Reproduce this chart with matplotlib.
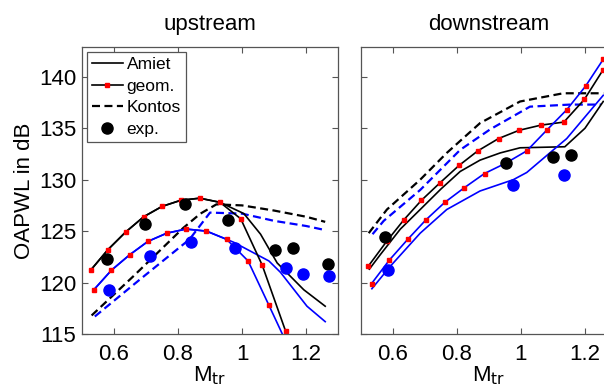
import matplotlib
matplotlib.use("Agg")
import matplotlib.pyplot as plt
from matplotlib.lines import Line2D

plt.rcParams["font.family"] = ["Liberation Sans", "DejaVu Sans"]

# upstream
up_geom_k_x = [0.527, 0.581, 0.636, 0.693, 0.750, 0.809, 0.868, 0.931, 0.996, 1.063, 1.136]
up_geom_k_y = [121.2, 123.2, 124.9, 126.4, 127.4, 128.0, 128.2, 127.8, 126.2, 121.7, 115.3]
up_geom_b_x = [0.537, 0.592, 0.649, 0.706, 0.765, 0.825, 0.889, 0.952, 1.019, 1.084, 1.150]
up_geom_b_y = [119.3, 121.2, 122.7, 124.0, 124.8, 125.2, 125.0, 124.2, 122.1, 117.8, 113.4]
up_amiet_k_x = [0.527, 0.581, 0.636, 0.693, 0.750, 0.809, 0.868, 0.931, 1.006, 1.058, 1.110, 1.193, 1.260]
up_amiet_k_y = [121.2, 123.2, 124.9, 126.4, 127.4, 128.0, 128.2, 127.8, 126.7, 124.7, 121.9, 119.3, 117.7]
up_amiet_b_x = [0.537, 0.592, 0.649, 0.706, 0.765, 0.825, 0.889, 0.952, 0.975, 1.084, 1.120, 1.203, 1.260]
up_amiet_b_y = [119.3, 121.2, 122.7, 124.0, 124.8, 125.2, 125.0, 124.2, 123.9, 122.1, 121.0, 117.7, 116.2]
up_kontos_k_x = [0.530, 0.660, 0.816, 0.870, 0.920, 1.000, 1.100, 1.200, 1.260]
up_kontos_k_y = [116.8, 120.6, 125.3, 126.7, 127.6, 127.5, 127.0, 126.4, 125.9]
up_kontos_b_x = [0.540, 0.681, 0.836, 0.900, 1.000, 1.100, 1.200, 1.260]
up_kontos_b_y = [116.7, 120.3, 124.2, 126.8, 126.7, 126.0, 125.5, 125.1]
up_exp_k_x = [0.579, 0.697, 0.823, 0.955, 1.103, 1.160, 1.269]
up_exp_k_y = [122.3, 125.7, 127.6, 126.1, 123.2, 123.4, 121.8]
up_exp_b_x = [0.584, 0.713, 0.840, 0.978, 1.136, 1.191, 1.273]
up_exp_b_y = [119.3, 122.6, 123.9, 123.4, 121.4, 120.8, 120.6]

# downstream
dn_geom_k_x = [0.523, 0.580, 0.634, 0.689, 0.747, 0.807, 0.865, 0.930, 0.994, 1.062, 1.134, 1.198, 1.257]
dn_geom_k_y = [121.6, 124.0, 126.1, 128.0, 129.7, 131.4, 132.8, 134.0, 134.8, 135.3, 135.6, 137.8, 140.7]
dn_geom_b_x = [0.533, 0.589, 0.646, 0.703, 0.762, 0.822, 0.886, 0.952, 1.018, 1.080, 1.143, 1.202, 1.257]
dn_geom_b_y = [119.9, 122.2, 124.2, 126.1, 127.8, 129.2, 130.6, 131.6, 132.8, 134.8, 136.8, 139.1, 141.7]
dn_amiet_k_x = [0.526, 0.560, 0.623, 0.685, 0.750, 0.810, 0.872, 0.935, 0.997, 1.137, 1.200, 1.257]
dn_amiet_k_y = [121.3, 122.7, 125.2, 127.1, 129.1, 130.8, 131.9, 132.6, 133.1, 133.2, 135.0, 137.6]
dn_amiet_b_x = [0.534, 0.592, 0.685, 0.768, 0.872, 0.976, 1.018, 1.143, 1.257]
dn_amiet_b_y = [119.4, 121.6, 124.8, 127.1, 128.9, 130.0, 130.7, 134.0, 138.2]
dn_kontos_k_x = [0.524, 0.581, 0.685, 0.768, 0.872, 0.997, 1.132, 1.257]
dn_kontos_k_y = [124.8, 127.1, 130.0, 132.6, 135.5, 137.6, 138.4, 138.4]
dn_kontos_b_x = [0.536, 0.571, 0.685, 0.810, 0.904, 1.028, 1.153, 1.250]
dn_kontos_b_y = [124.7, 126.0, 129.0, 132.9, 134.9, 137.1, 137.3, 137.3]
dn_exp_k_x = [0.574, 0.952, 1.101, 1.156]
dn_exp_k_y = [124.4, 131.6, 132.2, 132.4]
dn_exp_b_x = [0.584, 0.976, 1.135]
dn_exp_b_y = [121.2, 129.5, 130.5]

fig = plt.figure(figsize=(6.04, 3.87), dpi=100)
ax1 = fig.add_axes([0.1358, 0.137, 0.4238, 0.7416])
ax2 = fig.add_axes([0.5977, 0.137, 0.4238, 0.7416])

lw = 1.2
dlw = 1.6
dash = (3.6, 2.0)
msq = dict(marker="s", markersize=3.5, markerfacecolor="red", markeredgecolor="red")
mexp = dict(marker="o", linestyle="none", markersize=8)
fs = 16


def draw(ax, d):
    ax.plot(d["kk"][0], d["kk"][1], color="black", lw=dlw, dashes=dash)
    ax.plot(d["kb"][0], d["kb"][1], color="blue", lw=dlw, dashes=dash)
    ax.plot(d["ak"][0], d["ak"][1], color="black", lw=lw)
    ax.plot(d["ab"][0], d["ab"][1], color="blue", lw=lw)
    ax.plot(d["gk"][0], d["gk"][1], color="black", lw=lw, **msq)
    ax.plot(d["gb"][0], d["gb"][1], color="blue", lw=lw, **msq)
    ax.plot(d["ek"][0], d["ek"][1], color="black", **mexp)
    ax.plot(d["eb"][0], d["eb"][1], color="blue", **mexp)
    ax.set_xlim(0.5, 1.3)
    ax.set_ylim(115, 142.9)
    ax.set_xticks([0.6, 0.8, 1.0, 1.2])
    ax.set_xticklabels(["0.6", "0.8", "1", "1.2"])
    ax.set_yticks([115, 120, 125, 130, 135, 140])
    ax.tick_params(direction="in", top=True, right=True, length=4, width=0.8,
                   color="#555555", labelsize=fs)
    ax.tick_params(axis="x", pad=7)
    ax.tick_params(axis="y", pad=4)
    for s in ax.spines.values():
        s.set_color("#555555")
        s.set_linewidth(0.9)
    ax.set_xlabel(r"M$_{\mathrm{tr}}$", fontsize=fs, labelpad=0)


draw(ax1, dict(kk=(up_kontos_k_x, up_kontos_k_y), kb=(up_kontos_b_x, up_kontos_b_y),
               ak=(up_amiet_k_x, up_amiet_k_y), ab=(up_amiet_b_x, up_amiet_b_y),
               gk=(up_geom_k_x, up_geom_k_y), gb=(up_geom_b_x, up_geom_b_y),
               ek=(up_exp_k_x, up_exp_k_y), eb=(up_exp_b_x, up_exp_b_y)))
draw(ax2, dict(kk=(dn_kontos_k_x, dn_kontos_k_y), kb=(dn_kontos_b_x, dn_kontos_b_y),
               ak=(dn_amiet_k_x, dn_amiet_k_y), ab=(dn_amiet_b_x, dn_amiet_b_y),
               gk=(dn_geom_k_x, dn_geom_k_y), gb=(dn_geom_b_x, dn_geom_b_y),
               ek=(dn_exp_k_x, dn_exp_k_y), eb=(dn_exp_b_x, dn_exp_b_y)))
ax2.set_yticklabels([])

ax1.set_title("upstream", fontsize=fs, pad=12)
ax2.set_title("downstream", fontsize=fs, pad=12)
ax1.set_ylabel("OAPWL in dB", fontsize=fs, labelpad=3)

handles = [
    Line2D([], [], color="black", lw=lw),
    Line2D([], [], color="black", lw=lw, **msq),
    Line2D([], [], color="black", lw=dlw, dashes=dash),
    Line2D([], [], color="black", **mexp),
]
leg = ax1.legend(handles, ["Amiet", "geom.", "Kontos", "exp."], loc="upper left",
                 bbox_to_anchor=(0.018, 0.984), borderaxespad=0, fontsize=12.5,
                 fancybox=False, framealpha=1, edgecolor="#555555",
                 handlelength=1.8, handletextpad=0.2, labelspacing=0.38,
                 borderpad=0.3, markerscale=1.0)
leg.get_frame().set_linewidth(0.9)

fig.savefig("out.png", dpi=100)
